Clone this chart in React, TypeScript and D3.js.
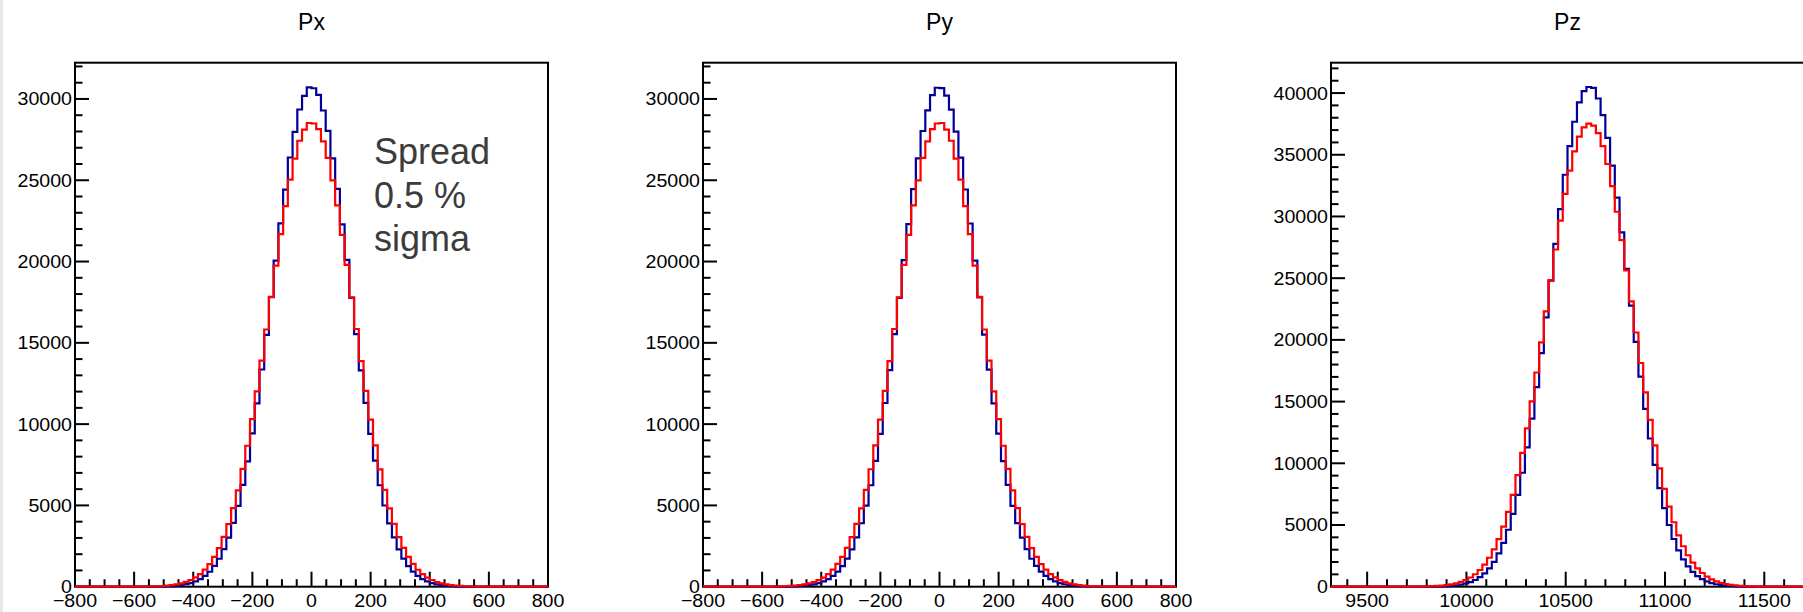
import React from "react";
import * as d3 from "d3";

// ---- data (bin contents, 100 bins per histogram) ----
const pxRange: [number, number] = [-800, 800];
const pzRange: [number, number] = [9318, 11700];

const pxBlue = [
  0,0,0,0,0,0,0,0,0,0,0,0,0,
  1,2,4,6,11,17,28,41,66,98,153,220,329,466,668,921,1281,1718,2310,3013,3921,4970,6268,7712,9430,11270,13360,15490,17810,20050,22350,24420,26400,27980,29350,30190,30710,
  30660,30250,29290,28040,26340,24470,22290,20100,17760,15540,13310,11310,9400,7750,6240,4995,3900,3030,2295,1730,1268,932,662,472,323,226,149,101,64,43,26,17,10,6,3,2,1,
  0,0,0,0,0,0,0,0,0,0,0,0,0,
];
const pxRed = [
  0,0,0,0,0,0,0,0,0,
  1,1,2,3,5,8,12,19,30,43,67,96,143,202,293,407,569,772,1051,1390,1840,2378,3062,3855,4835,5930,7245,8670,10310,12020,13910,15820,17830,19750,21690,23410,25040,26330,27430,28110,28520,
  28490,28150,27390,26370,24990,23450,21640,19790,17790,15850,13880,12050,10280,8695,7220,5955,4815,3870,3050,2388,1830,1399,1043,778,563,411,289,206,141,98,65,45,28,19,12,8,5,3,2,1,1,
  0,0,0,0,0,0,0,0,0,
];
const pyBlue = [
  0,0,0,0,0,0,0,0,0,0,0,0,0,
  1,2,3,7,10,18,26,43,64,102,149,226,324,471,660,930,1270,1732,2295,3030,3902,4990,6240,7745,9405,11300,13320,15530,17770,20090,22300,24460,26350,28030,29300,30240,30690,
  30670,30200,29340,27990,26390,24430,22340,20060,17800,15500,13350,11280,9420,7720,6265,4975,3915,3015,2308,1720,1279,924,668,466,329,220,152,99,66,41,28,16,11,5,4,2,1,
  0,0,0,0,0,0,0,0,0,0,0,0,0,
];
const pyRed = [
  0,0,0,0,0,0,0,0,0,
  1,2,2,3,5,8,12,20,29,45,65,98,141,205,290,410,564,776,1045,1398,1831,2388,3048,3870,4815,5950,7225,8695,10280,12050,13880,15850,17790,19790,21640,23450,24990,26370,27390,28150,28490,
  28520,28110,27430,26330,25040,23410,21690,19750,17830,15820,13910,12020,10310,8670,7245,5930,4835,3855,3062,2378,1840,1390,1051,772,569,407,293,202,143,96,67,43,30,19,12,8,5,3,2,1,1,
  0,0,0,0,0,0,0,0,0,
];
const pzBlue = [
  0,0,0,0,0,0,0,0,0,0,0,0,0,0,0,0,
  1,1,2,4,7,12,20,31,49,76,116,175,259,378,544,771,1080,1487,2018,2699,3552,4616,5907,7438,9234,11294,13623,16170,18925,21825,24801,27782,30600,33380,35693,37675,39250,40160,
  40490,
  40420,39560,38212,36373,34115,31530,28714,25754,22771,19838,17030,14416,12008,9864,7983,6370,5000,3866,2951,2217,1641,1198,859,609,425,293,199,132,87,56,36,23,14,9,5,3,2,1,
  0,0,0,0,0,0,0,
];
const pzRed = [
  0,0,0,0,0,0,0,0,0,0,0,0,
  1,1,2,3,5,7,11,18,27,41,62,92,134,194,276,389,541,744,1009,1352,1793,2345,3028,3863,4865,6060,7446,9040,10838,12835,15023,17355,19802,22316,24842,27324,29671,31824,33714,35277,36463,37219,
  37524,
  37366,36752,35698,34251,32460,30383,28090,25640,23125,20600,18126,15753,13512,11455,9592,7932,6481,5224,4165,3277,2548,1956,1481,1110,821,599,433,308,217,151,104,70,47,31,20,13,8,5,3,2,1,1,
  0,0,0,
];

const pxTicks = [-800, -600, -400, -200, 0, 200, 400, 600, 800];
const pzTicks = [9500, 10000, 10500, 11000, 11500];
const yTicksXY = [0, 5000, 10000, 15000, 20000, 25000, 30000];
const yTicksZ = [0, 5000, 10000, 15000, 20000, 25000, 30000, 35000, 40000];
const titles = ["Px", "Py", "Pz"];
const noteLines = ["Spread", "0.5 %", "sigma"];

// ---- layout ----
const W = 1803;
const H = 612;
const TOP = 62.7;
const BOTTOM = 586.7;
const PANEL_W = 473;
const FONT = "'Liberation Sans', Arial, Helvetica, sans-serif";
const BLUE = "#000099";
const RED = "#ff0000";
const STRETCH = 1.06;
const TICK_FS = 18.5;

const fmt = (v: number) => (v < 0 ? "\u2212" + Math.abs(v) : String(v));

function Hist({ values, range, x, y, color }: any) {
  const n = values.length;
  const bw = (range[1] - range[0]) / n;
  const pts: [number, number][] = [];
  values.forEach((v: number, i: number) => {
    pts.push([range[0] + i * bw, v]);
    pts.push([range[0] + (i + 1) * bw, v]);
  });
  const line = d3
    .line<[number, number]>()
    .x((d) => x(d[0]))
    .y((d) => y(d[1]));
  return <path d={line(pts) || ""} fill="none" stroke={color} strokeWidth={2.2} strokeLinejoin="miter" />;
}

function Panel({ x0, title, range, xTicks, xMinor, yTicks, yMax, blue, red }: any) {
  const x = d3.scaleLinear().domain(range).range([x0, x0 + PANEL_W]);
  const y = d3.scaleLinear().domain([0, yMax]).range([BOTTOM, TOP]);
  const yMinor = d3.range(0, yMax, 1000).filter((v) => v % 5000 !== 0);
  const xMinorVals = d3
    .range(Math.ceil(range[0] / xMinor) * xMinor, range[1] + 0.001, xMinor)
    .filter((v) => !xTicks.includes(v));
  return (
    <g>
      <text
        x={x0 + PANEL_W / 2}
        y={30}
        textAnchor="middle"
        fontSize={23}
        fontFamily={FONT}
        fill="#000"
      >
        {title}
      </text>
      <rect x={x0} y={TOP} width={PANEL_W} height={BOTTOM - TOP} fill="#fff" stroke="#000" strokeWidth={2} />
      {yTicks.map((v: number) => (
        <g key={"y" + v}>
          <line x1={x0} x2={x0 + 14} y1={y(v)} y2={y(v)} stroke="#000" strokeWidth={2} />
          <text
            transform={`translate(${x0 - 3},${y(v) + 6.5}) scale(${STRETCH},1)`}
            textAnchor="end"
            fontSize={TICK_FS}
            fontFamily={FONT}
            fill="#000"
          >
            {fmt(v)}
          </text>
        </g>
      ))}
      {yMinor.map((v: number) => (
        <line key={"ym" + v} x1={x0} x2={x0 + 7.5} y1={y(v)} y2={y(v)} stroke="#000" strokeWidth={2} />
      ))}
      {xTicks.map((v: number) => (
        <g key={"x" + v}>
          <line x1={x(v)} x2={x(v)} y1={BOTTOM} y2={BOTTOM - 15} stroke="#000" strokeWidth={2} />
          <text
            transform={`translate(${x(v)},607) scale(${STRETCH},1)`}
            textAnchor="middle"
            fontSize={TICK_FS}
            fontFamily={FONT}
            fill="#000"
          >
            {fmt(v)}
          </text>
        </g>
      ))}
      {xMinorVals.map((v: number) => (
        <line key={"xm" + v} x1={x(v)} x2={x(v)} y1={BOTTOM} y2={BOTTOM - 7.5} stroke="#000" strokeWidth={2} />
      ))}
      <Hist values={blue} range={range} x={x} y={y} color={BLUE} />
      <Hist values={red} range={range} x={x} y={y} color={RED} />
    </g>
  );
}

export default function App() {
  return (
    <svg
      width={W}
      height={H}
      style={{ position: "absolute", left: 0, top: 0, background: "#fff" }}
    >
      <rect x={0} y={0} width={W} height={H} fill="#fff" />
      <rect x={0} y={0} width={3} height={H} fill="#e8e8e8" />
      <Panel x0={75} title={titles[0]} range={pxRange} xTicks={pxTicks} xMinor={50} yTicks={yTicksXY} yMax={32230} blue={pxBlue} red={pxRed} />
      <Panel x0={703} title={titles[1]} range={pxRange} xTicks={pxTicks} xMinor={50} yTicks={yTicksXY} yMax={32230} blue={pyBlue} red={pyRed} />
      <Panel x0={1331} title={titles[2]} range={pzRange} xTicks={pzTicks} xMinor={100} yTicks={yTicksZ} yMax={42460} blue={pzBlue} red={pzRed} />
      {noteLines.map((t, i) => (
        <text key={t} x={374} y={164 + i * 43.5} fontSize={36} fontFamily={FONT} fill="#3c3c3c">
          {t}
        </text>
      ))}
    </svg>
  );
}
